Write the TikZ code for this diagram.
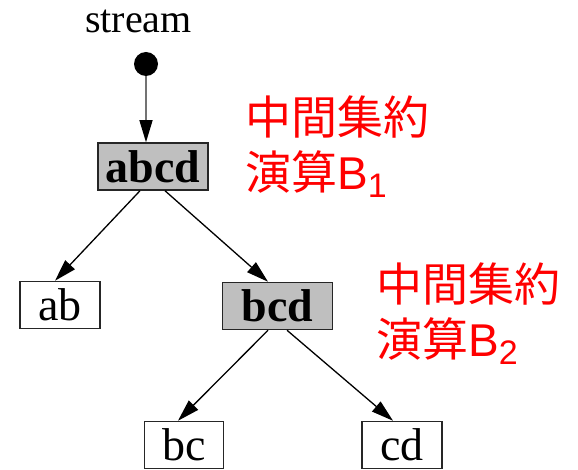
\documentclass[tikz,border=0pt]{standalone}
\usepackage{fontspec}
\setmainfont{Liberation Serif}
\newfontfamily\cjk{Noto Sans CJK JP}
\newfontfamily\lsans{Liberation Sans}
\usetikzlibrary{arrows.meta,calc}
\begin{document}
\begin{tikzpicture}[x=1pt,y=-1pt,
  box/.style={draw=black!85, line width=1.5pt, minimum height=47pt, inner sep=0pt, font=\fontsize{46}{46}\selectfont},
  greybox/.style={box, fill=black!25, font=\fontsize{46}{46}\selectfont\bfseries},
  edge/.style={-{Triangle[length=22pt,width=13pt]}, line width=1.3pt},
  redlbl/.style={text=red, align=left, font=\cjk\fontsize{46}{55}\selectfont, inner sep=0pt}
]
\useasboundingbox (0,0) rectangle (578,470);
\node[greybox, minimum width=110pt] (abcd) at (153,166.5) {abcd};
\node[box, minimum width=80pt] (ab) at (60,305) {ab};
\node[greybox, minimum width=110pt] (bcd) at (277.5,306) {bcd};
\node[box, minimum width=79pt] (bc) at (184,445) {bc};
\node[box, minimum width=80pt] (cd) at (402,445) {cd};
\node[circle, fill=black, minimum size=24pt, inner sep=0pt] (dot) at (146,64) {};
\node[font=\fontsize{40}{40}\selectfont, anchor=base, inner sep=0pt] (stream) at (138.5,33) {stream};
\draw[edge, draw=black!55, -{Triangle[length=22pt,width=13pt,color=black]}] (dot) -- ($(abcd.north)+(-7,0)$);
\draw[edge] ($(abcd.south)+(-13,0)$) -- ($(ab.north)+(-5,0)$);
\draw[edge] ($(abcd.south)+(12,0)$) -- ($(bcd.north)+(-9.5,0)$);
\draw[edge] ($(bcd.south)+(-9.5,0)$) -- ($(bc.north)+(-6,0)$);
\draw[edge] ($(bcd.south)+(9.5,0)$) -- ($(cd.north)+(-9,0)$);
\node[redlbl, anchor=north west] (lbl1) at (245,96) {中間集約\\演算{\lsans B\raisebox{-8pt}{\fontsize{34}{34}\selectfont 1}}};
\node[redlbl, anchor=north west] (lbl2) at (376,263) {中間集約\\演算{\lsans B\raisebox{-8pt}{\fontsize{34}{34}\selectfont 2}}};
\end{tikzpicture}
\end{document}
